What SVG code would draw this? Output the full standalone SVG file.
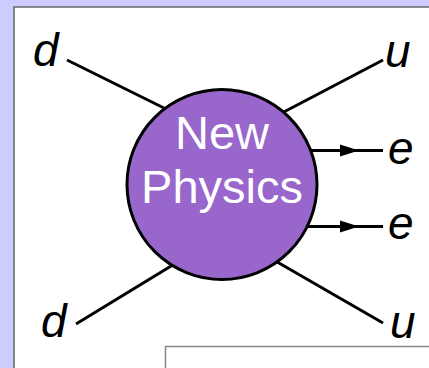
<svg xmlns="http://www.w3.org/2000/svg" width="429" height="368" viewBox="0 0 429 368">
<defs>
<style>
.lbl{font-family:"Liberation Sans",Arial,sans-serif;font-style:italic;font-size:46px;fill:#000}
.ln{stroke:#000;stroke-width:3;fill:none}
.np{font-family:"Liberation Sans",Arial,sans-serif;font-size:47px;fill:#fff;text-anchor:middle}
</style>
<marker id="ah" viewBox="0 0 10 10" refX="10" refY="5" markerWidth="6" markerHeight="4" markerUnits="strokeWidth" orient="auto">
<path d="M0,0 L10,5 L0,10 z" fill="#000"/>
</marker>
</defs>
<rect x="0" y="0" width="429" height="368" fill="#ccccff"/>
<rect x="14" y="7" width="430" height="380" fill="#fff" stroke="#666" stroke-width="1.5"/>
<g id="connectors">
<line class="ln" x1="67" y1="60" x2="170" y2="111"/>
<line class="ln" x1="383" y1="60" x2="280" y2="114"/>
<line class="ln" x1="76" y1="324" x2="176" y2="263"/>
<line class="ln" x1="383" y1="323" x2="272" y2="259"/>
<path class="ln" d="M305,150.5 H358"/>
<path class="ln" d="M358,150.5 H383"/>
<path class="ln" d="M300,226.5 H358"/>
<path class="ln" d="M358,226.5 H383"/>
<path d="M340,144.5 L359,150.5 L340,156.5 z" fill="#000"/>
<path d="M340,220.5 L359,226.5 L340,232.5 z" fill="#000"/>
</g>
<g id="newphysics">
<circle cx="222" cy="184.5" r="95" fill="#9966cc" stroke="#000" stroke-width="3"/>
<text class="np" x="222" y="149">New</text>
<text class="np" x="222" y="203">Physics</text>
</g>
<g id="labels">
<text class="lbl" x="33" y="66">d</text>
<text class="lbl" x="385" y="67">u</text>
<text class="lbl" x="388" y="164">e</text>
<text class="lbl" x="388" y="239">e</text>
<text class="lbl" x="41" y="337">d</text>
<text class="lbl" x="390" y="338">u</text>
</g>
<rect x="165.5" y="346.5" width="280" height="40" fill="#fff" stroke="#888" stroke-width="1.5"/>
</svg>
